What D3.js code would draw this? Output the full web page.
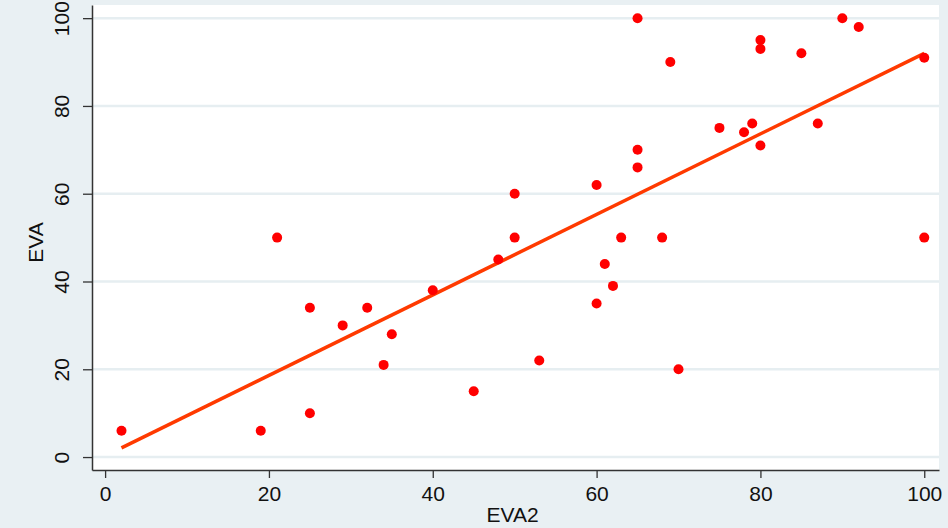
<!DOCTYPE html>
<html>
<head>
<meta charset="utf-8">
<script src="https://cdn.jsdelivr.net/npm/d3@7"></script>
<style>
  html, body { margin: 0; padding: 0; background: #e9f0f3; }
  #chart { width: 948px; height: 528px; }
  text { font-family: "Liberation Sans", Arial, sans-serif; }
</style>
</head>
<body>
<div id="chart"></div>
<script>
const eva2 = [2, 19, 21, 25, 25, 29, 32, 34, 35, 40, 45, 48, 50, 50, 53, 60, 60, 61, 62, 63,
  65, 65, 65, 68, 69, 70, 75, 78, 79, 80, 80, 80, 85, 87, 90, 92, 100, 100];
const eva = [6, 6, 50, 34, 10, 30, 34, 21, 28, 38, 15, 45, 60, 50, 22, 62, 35, 44, 39, 50,
  100, 70, 66, 50, 90, 20, 75, 74, 76, 95, 93, 71, 92, 76, 100, 98, 91, 50];
const xTicks = [0, 20, 40, 60, 80, 100];
const yTicks = [0, 20, 40, 60, 80, 100];

const width = 948;
const height = 528;
const plot = { left: 92, right: 939, top: 5, bottom: 470 };

const svg = d3.select("#chart").append("svg")
  .attr("width", width)
  .attr("height", height);

svg.append("rect")
  .attr("width", width)
  .attr("height", height)
  .attr("fill", "#e9f0f3");

svg.append("rect")
  .attr("x", plot.left)
  .attr("y", plot.top)
  .attr("width", plot.right - plot.left)
  .attr("height", plot.bottom - plot.top)
  .attr("fill", "#fff");

const x = d3.scaleLinear().domain([-1.6, 101.8]).range([plot.left, plot.right]);
const y = d3.scaleLinear().domain([-2.95, 103]).range([plot.bottom, plot.top]);

// grid
svg.append("g")
  .selectAll("line")
  .data(yTicks)
  .enter()
  .append("line")
  .attr("x1", plot.left)
  .attr("x2", plot.right)
  .attr("y1", (d) => y(d))
  .attr("y2", (d) => y(d))
  .attr("stroke", "#e6eef1")
  .attr("stroke-width", 2.5);

// axes
const xAxis = svg.append("g")
  .attr("transform", `translate(0,${plot.bottom})`)
  .call(d3.axisBottom(x).tickValues(xTicks).tickSize(8).tickPadding(8).tickSizeOuter(0));
xAxis.select(".domain").attr("stroke", "#333").attr("stroke-width", 1.5);
xAxis.selectAll(".tick line").attr("stroke", "#333").attr("stroke-width", 1.3);
xAxis.selectAll(".tick text")
  .attr("font-size", 21)
  .attr("fill", "#111")
  .attr("font-family", "Liberation Sans, Arial, sans-serif");

const yAxis = svg.append("g")
  .attr("transform", `translate(${plot.left},0)`)
  .call(d3.axisLeft(y).tickValues(yTicks).tickSize(9).tickSizeOuter(0));
yAxis.select(".domain").attr("stroke", "#333").attr("stroke-width", 1.5);
yAxis.selectAll(".tick line").attr("stroke", "#333").attr("stroke-width", 1.3);
yAxis.selectAll(".tick text")
  .attr("font-size", 21)
  .attr("fill", "#111")
  .attr("font-family", "Liberation Sans, Arial, sans-serif")
  .attr("x", 0)
  .attr("dy", 0)
  .attr("text-anchor", "middle")
  .attr("transform", "translate(-23,0) rotate(-90)");

// axis titles
svg.append("text")
  .attr("x", (plot.left + plot.right) / 2 - 3)
  .attr("y", 522)
  .attr("text-anchor", "middle")
  .attr("font-size", 21)
  .attr("fill", "#111")
  .text("EVA2");

svg.append("text")
  .attr("transform", `translate(43,${(plot.top + plot.bottom) / 2 + 5}) rotate(-90)`)
  .attr("text-anchor", "middle")
  .attr("font-size", 21)
  .attr("fill", "#111")
  .text("EVA");

// linear fit
const mx = d3.mean(eva2);
const my = d3.mean(eva);
const slope = d3.sum(eva2, (d, i) => (d - mx) * (eva[i] - my)) /
  d3.sum(eva2, (d) => (d - mx) * (d - mx));
const intercept = my - slope * mx;
const ext = d3.extent(eva2);

svg.append("line")
  .attr("x1", x(ext[0]))
  .attr("y1", y(intercept + slope * ext[0]))
  .attr("x2", x(ext[1]))
  .attr("y2", y(intercept + slope * ext[1]))
  .attr("stroke", "#ff3a00")
  .attr("stroke-width", 3.5);

// points
svg.append("g")
  .selectAll("circle")
  .data(eva2)
  .enter()
  .append("circle")
  .attr("cx", (d) => x(d))
  .attr("cy", (d, i) => y(eva[i]))
  .attr("r", 5)
  .attr("fill", "#ff0000");
</script>
</body>
</html>
